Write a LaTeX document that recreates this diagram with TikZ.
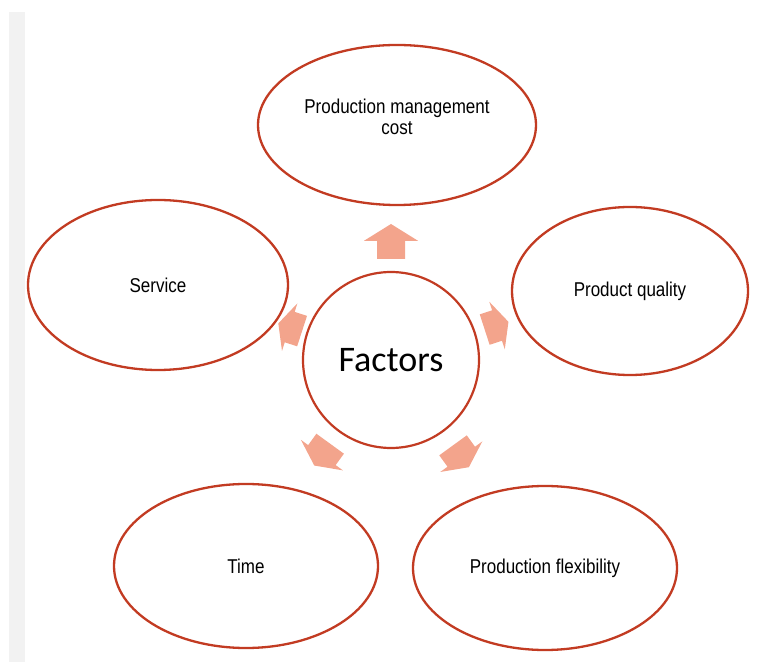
\documentclass[tikz,border=0pt]{standalone}
\usepackage{fontspec}
\newfontfamily\labfont[FakeStretch=0.85]{Liberation Sans}
\newfontfamily\factfont{Carlito}
\usetikzlibrary{shapes.geometric}
\definecolor{ringred}{HTML}{C23B22}
\definecolor{arrowfill}{HTML}{F3A48C}
\definecolor{stripgray}{HTML}{F2F2F2}
\tikzset{
  factor/.style={ellipse, draw=ringred, line width=2.3pt, fill=white, inner sep=0pt,
    font={\labfont\fontsize{20}{22}\selectfont}, align=center},
  labeltext/.style={inner sep=0pt, font={\labfont\fontsize{20}{21}\selectfont}, align=center},
  hub/.style={circle, draw=ringred, line width=2.2pt, fill=white, inner sep=0pt,
    minimum size=176pt, font={\factfont\fontsize{36}{40}\selectfont}},
  blockarrow/.style={fill=arrowfill, draw=none}
}
% #1 angle, #2 distance of arrow centre, #3 length, #4 head half width, #5 shaft half width
\newcommand{\radarrow}[5]{%
  \begin{scope}[shift={(F.center)}, rotate=#1]
    \fill[blockarrow] (#2-#3/2,-#5) -- (#2+#3/2-0.48*#3,-#5) -- (#2+#3/2-0.48*#3,-#4) -- (#2+#3/2,0)
      -- (#2+#3/2-0.48*#3,#4) -- (#2+#3/2-0.48*#3,#5) -- (#2-#3/2,#5) -- cycle;
  \end{scope}}
\begin{document}
\begin{tikzpicture}[x=1pt,y=1pt]
\useasboundingbox (0,0) rectangle (766,662);
\fill[stripgray] (9,0) rectangle (25,650);
\node[hub] (F) at (391,302) {Factors};
\node[factor, minimum width=278pt, minimum height=160pt] (T) at (397,537) {};
\node[labeltext] (Tt) at (397,545) {Production management\\cost};
\node[factor, minimum width=260pt, minimum height=170pt] (S) at (158,377) {Service};
\node[factor, minimum width=236pt, minimum height=168pt] (Q) at (630,371) {Product quality};
\node[factor, minimum width=264pt, minimum height=164pt] (M) at (246,96) {Time};
\node[factor, minimum width=264pt, minimum height=164pt] (X) at (545,94) {Production flexibility};
\radarrow{90}{118.5}{35}{27}{14}
\radarrow{18}{111}{25}{25}{16}
\radarrow{-54}{119}{27}{26}{17}
\radarrow{-126}{117}{27}{26}{17}
\radarrow{162}{106}{25}{25}{16}
\end{tikzpicture}
\end{document}
